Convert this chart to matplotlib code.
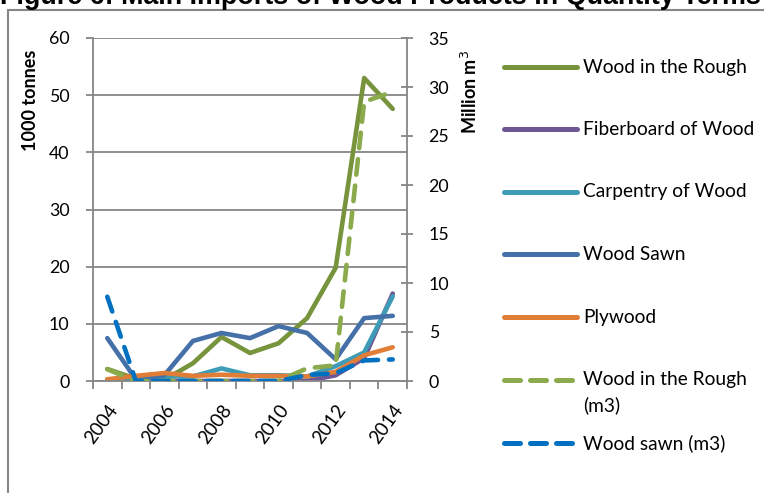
import matplotlib
matplotlib.use("Agg")
import matplotlib.pyplot as plt
from matplotlib.lines import Line2D
from matplotlib.patches import Rectangle
import numpy as np

# ---- data -------------------------------------------------------------
years = [2004, 2005, 2006, 2007, 2008, 2009, 2010, 2011, 2012, 2013, 2014]

# 1000 tonnes (left axis)
wood_rough = [2.1, 0.4, 0.2, 3.1, 7.7, 4.9, 6.6, 11.0, 19.8, 53.0, 47.6]
fiberboard = [0.0, 0.0, 0.0, 0.0, 0.0, 0.0, 0.0, 0.0, 1.0, 4.0, 15.3]
carpentry = [0.3, 0.3, 0.8, 0.8, 2.2, 1.0, 1.0, 0.8, 2.6, 5.0, 14.8]
wood_sawn = [7.5, 0.3, 1.0, 7.0, 8.4, 7.5, 9.6, 8.4, 3.8, 11.0, 11.4]
plywood = [0.3, 0.9, 1.4, 0.9, 1.1, 0.9, 0.9, 0.8, 1.6, 4.5, 5.9]

# million m3 (right axis)
wood_rough_m3 = [1.2, 0.0, 0.0, 0.0, 0.0, 0.0, 0.0, 1.3, 1.6, 28.5, 29.5]
wood_sawn_m3 = [8.6, 0.0, 0.0, 0.0, 0.0, 0.0, 0.0, 0.6, 0.8, 2.1, 2.2]

left_ticks = [0, 10, 20, 30, 40, 50, 60]
right_ticks = [0, 5, 10, 15, 20, 25, 30, 35]

title = "Figure 6: Main Imports of Wood Products in Quantity Terms"
left_label = "1000 tonnes"
right_label = "Million m$^3$"

# ---- styling ----------------------------------------------------------
W, H = 764, 493
DPI = 100
FONT = ["Lato", "DejaVu Sans"]
GRID = "#868686"
LW = 3.3

plt.rcParams["font.family"] = FONT

series_left = [
    ("Wood in the Rough", wood_rough, "#77933C"),
    ("Fiberboard of Wood", fiberboard, "#6F5696"),
    ("Carpentry of Wood", carpentry, "#3E9CB6"),
    ("Wood Sawn", wood_sawn, "#4570A8"),
    ("Plywood", plywood, "#E07E38"),
]
series_right = [
    ("Wood in the Rough\n(m3)", wood_rough_m3, "#8BAA4B"),
    ("Wood sawn (m3)", wood_sawn_m3, "#0070C0"),
]

fig = plt.figure(figsize=(W / DPI, H / DPI), dpi=DPI)


def fx(px):
    return px / W


def fy(py):
    return 1 - py / H


# outer chart frame
fig.patches.append(Rectangle((fx(8), fy(H + 20)), 1.0, fy(10) - fy(H + 20),
                             transform=fig.transFigure, fill=False,
                             edgecolor=GRID, linewidth=1.5))

ax = fig.add_axes([fx(93), fy(381), fx(407) - fx(93), fy(38) - fy(381)])
ax2 = ax.twinx()

x = np.arange(len(years))
handles = []
for label, vals, color in series_left:
    (ln,) = ax.plot(x, vals, color=color, lw=LW, solid_capstyle="round",
                    solid_joinstyle="round", label=label)
    handles.append(ln)
for label, vals, color in series_right:
    (ln,) = ax2.plot(x, vals, color=color, lw=LW, linestyle=(0, (3.4, 2.4)),
                     dash_capstyle="round", dash_joinstyle="round", label=label)
    handles.append(ln)

# axes ranges
ax.set_xlim(-0.5, len(years) - 0.5)
ax.set_ylim(0, 60)
ax2.set_ylim(0, 35)

# left axis
ax.set_yticks(left_ticks)
ax.set_yticklabels([str(v) for v in left_ticks])
ax.yaxis.grid(True, color=GRID, linewidth=1.3)
ax.set_axisbelow(True)
ax.tick_params(axis="y", which="major", direction="out", length=5, width=1.3,
               color=GRID, pad=12, labelsize=12.8, labelcolor="black")

# right axis
ax2.set_yticks(right_ticks)
ax2.set_yticklabels([str(v) for v in right_ticks])
ax2.tick_params(axis="y", which="major", direction="inout", length=9, width=1.3,
                color=GRID, pad=11, labelsize=12.8, labelcolor="black")

# category axis: tick marks between categories, labels every other year
ax.set_xticks(np.arange(-0.5, len(years)), minor=True)
ax.set_xticks(x[::2])
ax.set_xticklabels([str(y) for y in years[::2]], rotation=54, ha="right",
                   va="top", rotation_mode="anchor")
ax.tick_params(axis="x", which="major", length=0, pad=15, labelsize=13.5)
ax.tick_params(axis="x", which="minor", direction="out", length=6, width=1.3,
               color=GRID)

for a in (ax, ax2):
    for side in ("top", "left", "right", "bottom"):
        a.spines[side].set_visible(False)
ax.spines["left"].set_visible(True)
ax.spines["bottom"].set_visible(True)
ax2.spines["right"].set_visible(True)
for s in (ax.spines["left"], ax.spines["bottom"], ax2.spines["right"]):
    s.set_color(GRID)
    s.set_linewidth(1.3)

# axis titles
fig.text(fx(30), fy(100), left_label, rotation=90, ha="center", va="center",
         fontsize=13, fontweight="bold")
fig.text(fx(470), fy(92), right_label, rotation=90, ha="center", va="center",
         fontsize=13, fontweight="bold")

# legend, one entry per row
rows_y = [67, 129, 192, 254, 317, 380, 443]
for ln, ry in zip(handles, rows_y):
    leg = Line2D([fx(504), fx(577)], [fy(ry), fy(ry)], transform=fig.transFigure,
                 color=ln.get_color(), lw=3.6, linestyle=ln.get_linestyle(),
                 solid_capstyle="round", dash_capstyle="round")
    if ln.get_linestyle() != "-":
        leg.set_dashes((3.2, 2.0))
    fig.lines.append(leg)
    for i, part in enumerate(ln.get_label().split("\n")):
        fig.text(fx(583), fy(ry + 25 * i), part, ha="left", va="center",
                 fontsize=13.8)

# title, partly above the canvas edge
t = fig.text(fx(0), fy(4), title, ha="left", va="baseline",
             fontsize=16, fontweight="bold", family="Liberation Sans")
fig.canvas.draw()
w = t.get_window_extent().width
t.set_fontsize(16 * 760 / w)

fig.savefig("out.png", dpi=DPI)
